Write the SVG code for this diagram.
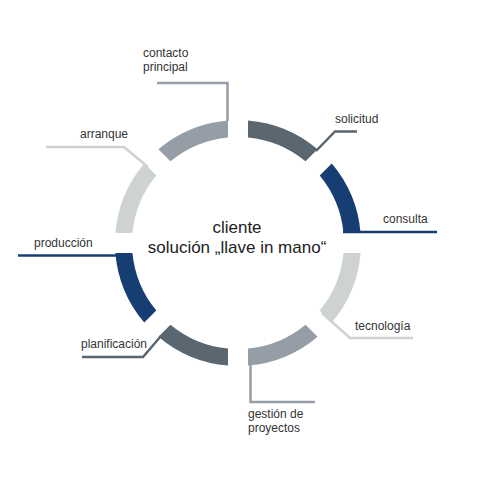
<svg xmlns="http://www.w3.org/2000/svg" width="480" height="480" viewBox="0 0 480 480">
<style>
.lbl{font-family:"Liberation Sans",Arial,Helvetica,sans-serif;font-size:12px;fill:#333333}
.ctr{font-family:"Liberation Sans",Arial,Helvetica,sans-serif;font-size:17px;fill:#222222;text-anchor:middle}
.con{fill:none;stroke-width:2.5}
.slate{fill:#5a6670}.blue{fill:#173e73}.light{fill:#ced2d1}.mid{fill:#959da6}
</style>
<rect width="480" height="480" fill="#ffffff"/>
<g id="connectors">
<path class="con" stroke="#959da6" d="M227.5,121 V83 H157"/>
<path class="con" stroke="#5a6670" d="M316,151 L335,131.5 H357"/>
<path class="con" stroke="#173e73" d="M343,232 H437"/>
<path class="con" stroke="#ced2d1" d="M322,313 L350,338 H413"/>
<path class="con" stroke="#959da6" d="M250.5,364 V402 H315"/>
<path class="con" stroke="#5a6670" d="M161,336 L143,357 H82"/>
<path class="con" stroke="#173e73" d="M18,255.5 H128"/>
<path class="con" stroke="#ced2d1" d="M148,167 L124,147 H46"/>
</g>
<g id="ring" transform="translate(238,243)">
<g id="solicitud"><path class="slate" d="M10,-122.59 A123,123 0 0 1 79.61,-93.75 L67.55,-81.69 A106,106 0 0 0 10,-105.53 Z"/></g>
<g id="consulta"><path class="blue" d="M93.75,-79.61 A123,123 0 0 1 122.59,-10 L105.53,-10 A106,106 0 0 0 81.69,-67.55 Z"/></g>
<g id="tecnologia"><path class="light" d="M122.59,10 A123,123 0 0 1 93.75,79.61 L81.69,67.55 A106,106 0 0 0 105.53,10 Z"/></g>
<g id="gestion"><path class="mid" d="M79.61,93.75 A123,123 0 0 1 10,122.59 L10,105.53 A106,106 0 0 0 67.55,81.69 Z"/></g>
<g id="planificacion"><path class="slate" d="M-10,122.59 A123,123 0 0 1 -79.61,93.75 L-67.55,81.69 A106,106 0 0 0 -10,105.53 Z"/></g>
<g id="produccion"><path class="blue" d="M-93.75,79.61 A123,123 0 0 1 -122.59,10 L-105.53,10 A106,106 0 0 0 -81.69,67.55 Z"/></g>
<g id="arranque"><path class="light" d="M-122.59,-10 A123,123 0 0 1 -93.75,-79.61 L-81.69,-67.55 A106,106 0 0 0 -105.53,-10 Z"/></g>
<g id="contacto"><path class="mid" d="M-79.61,-93.75 A123,123 0 0 1 -10,-122.59 L-10,-105.53 A106,106 0 0 0 -67.55,-81.69 Z"/></g>
</g>
<g id="labels">
<text class="lbl" x="143" y="57">contacto</text>
<text class="lbl" x="143" y="71">principal</text>
<text class="lbl" x="335" y="123">solicitud</text>
<text class="lbl" x="383" y="223">consulta</text>
<text class="lbl" x="355" y="330">tecnología</text>
<text class="lbl" x="248" y="418">gestión de</text>
<text class="lbl" x="248" y="432">proyectos</text>
<text class="lbl" x="81" y="348">planificación</text>
<text class="lbl" x="34" y="247">producción</text>
<text class="lbl" x="80" y="138">arranque</text>
</g>
<g id="center">
<text class="ctr" x="237" y="233">cliente</text>
<text class="ctr" x="237" y="253">solución „llave in mano“</text>
</g>
</svg>
